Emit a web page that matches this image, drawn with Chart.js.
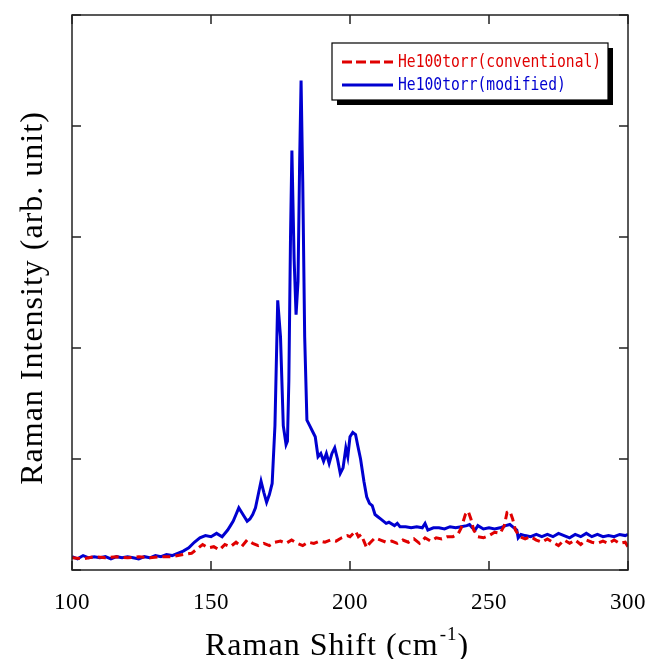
<!DOCTYPE html>
<html>
<head>
<meta charset="utf-8">
<script src="https://cdn.jsdelivr.net/npm/chart.js@4.4.0/dist/chart.umd.min.js"></script>
<style>
  html, body { margin: 0; padding: 0; background: #fff; }
  #wrap { width: 649px; height: 659px; }
</style>
</head>
<body>
<div id="wrap"><canvas id="ramanChart" width="649" height="659"></canvas></div>
<script>
// Raman shift (cm-1) and intensity (arb. unit)
const modifiedShift = [100,102,104,106,108,110,112,114,116,118,120,122,124,126,128,130,132,134,136,138,140,142,144,146,148,150,152,154,156,157,158,159,160,161,162,163,164,165,166,167,168,169,170,171,172,173,174,175,176,177,177.5,178,178.6,179.1,179.9,180.6,181.3,181.9,182.4,183,183.7,184.5,185.5,186.5,187.5,188.5,189.5,190.5,191.5,192.5,193.5,194.5,195.5,196.5,197.5,198.5,199.2,200,201,202,202.8,203.8,205,206,207,208,209,210,211,212,213,214,216,217,218,220,222,224,226,227,228,230,232,234,236,238,240,242,243,244,245,246,248,250,252,254,256,257.5,259,260,260.5,261.5,263,265,267,269,271,273,275,277,279,281,283,285,287,289,291,293,295,297,299,300];
const modifiedIntensity = [0.12,0.10,0.13,0.11,0.12,0.11,0.12,0.10,0.12,0.11,0.12,0.11,0.10,0.12,0.11,0.13,0.12,0.14,0.13,0.15,0.17,0.20,0.25,0.29,0.31,0.30,0.33,0.30,0.36,0.40,0.44,0.50,0.56,0.52,0.48,0.44,0.46,0.50,0.56,0.68,0.80,0.70,0.61,0.68,0.78,1.30,2.43,2.10,1.30,1.13,1.16,1.70,3.00,3.78,2.80,2.30,2.60,3.70,4.41,3.50,2.10,1.35,1.30,1.25,1.20,1.02,1.05,0.98,1.05,0.96,1.05,1.10,1.00,0.87,0.92,1.10,1.02,1.20,1.24,1.22,1.12,1.00,0.80,0.66,0.60,0.58,0.50,0.48,0.46,0.44,0.42,0.43,0.40,0.42,0.39,0.39,0.38,0.39,0.38,0.42,0.36,0.38,0.38,0.37,0.39,0.38,0.39,0.40,0.41,0.38,0.36,0.40,0.37,0.38,0.37,0.38,0.40,0.41,0.38,0.36,0.29,0.32,0.31,0.30,0.32,0.30,0.32,0.30,0.33,0.31,0.29,0.32,0.30,0.33,0.30,0.32,0.30,0.31,0.30,0.32,0.31,0.32,0.33];

const conventionalShift = [100,104,108,112,116,120,124,128,132,136,140,143,145,147,149,151,153,155,157,159,161,163,165,167,169,171,173,175,177,179,181,183,185,187,189,191,193,195,197,199,200,202,203,204,205,206,207,209,211,213,215,217,219,221,223,225,227,229,231,233,235,237,239,240,241.5,242.5,243.5,244.5,246,248,250,252,254,255.5,256.5,257.5,258.5,259.5,261,263,265,267,269,271,273,275,277,279,281,283,285,287,289,291,293,295,297,299,300];
const conventionalIntensity = [0.11,0.10,0.12,0.11,0.12,0.11,0.12,0.11,0.12,0.12,0.14,0.15,0.19,0.23,0.20,0.21,0.18,0.23,0.21,0.25,0.21,0.27,0.24,0.22,0.24,0.22,0.25,0.26,0.24,0.27,0.24,0.22,0.25,0.24,0.26,0.25,0.27,0.26,0.29,0.31,0.30,0.35,0.30,0.32,0.26,0.20,0.24,0.29,0.27,0.25,0.26,0.24,0.27,0.25,0.28,0.24,0.29,0.26,0.29,0.28,0.30,0.30,0.33,0.38,0.50,0.53,0.46,0.36,0.30,0.29,0.31,0.34,0.33,0.40,0.52,0.53,0.46,0.36,0.30,0.28,0.30,0.27,0.25,0.28,0.25,0.22,0.27,0.24,0.27,0.23,0.27,0.25,0.24,0.26,0.24,0.27,0.24,0.25,0.21];

const xTicks = [100, 150, 200, 250, 300];
const yTicks = [0, 1, 2, 3, 4, 5];

const seriesNames = ['He100torr(conventional)', 'He100torr(modified)'];
const red = '#e00000';
const blue = '#0000d0';

function toPoints(xs, ys) {
  return xs.map((x, i) => ({ x: x, y: ys[i] }));
}

// frame, inward ticks, titles and the boxed legend
const decorations = {
  id: 'decorations',
  beforeDraw(chart) {
    chart.ctx.letterSpacing = '0.5px';
  },
  afterDraw(chart) {
    const c = chart.ctx;
    const a = chart.chartArea;
    const xs = chart.scales.x, ys = chart.scales.y;
    c.save();
    c.strokeStyle = '#222';
    c.lineWidth = 1.5;
    c.strokeRect(a.left, a.top, a.right - a.left, a.bottom - a.top);
    c.beginPath();
    xTicks.forEach(v => {
      const px = xs.getPixelForValue(v);
      c.moveTo(px, a.bottom); c.lineTo(px, a.bottom - 9);
      c.moveTo(px, a.top); c.lineTo(px, a.top + 9);
    });
    yTicks.forEach(v => {
      const py = ys.getPixelForValue(v);
      c.moveTo(a.left, py); c.lineTo(a.left + 9, py);
      c.moveTo(a.right, py); c.lineTo(a.right - 9, py);
    });
    c.stroke();

    // x title with superscript
    c.fillStyle = '#000';
    c.textBaseline = 'alphabetic';
    c.letterSpacing = '1px';
    const big = '32px "Liberation Serif", "Times New Roman", serif';
    const small = '19px "Liberation Serif", "Times New Roman", serif';
    c.font = big;
    const p1 = 'Raman Shift (cm', p3 = ')';
    const w1 = c.measureText(p1).width;
    c.font = small;
    const w2 = c.measureText('-1').width;
    const x0 = 205;
    const yb = 655;
    c.font = big; c.fillText(p1, x0, yb);
    c.font = small; c.fillText('-1', x0 + w1 + 1, yb - 15);
    c.font = big; c.fillText(p3, x0 + w1 + w2 + 1, yb);

    // y title
    c.save();
    c.translate(42, 298);
    c.rotate(-Math.PI / 2);
    c.textAlign = 'center';
    c.font = big;
    c.fillText('Raman Intensity (arb. unit)', 0, 0);
    c.restore();
    c.letterSpacing = '0px';

    // legend
    const lx = 332, ly = 43, lw = 276, lh = 57;
    c.fillStyle = '#000';
    c.fillRect(lx + 5, ly + 5, lw, lh);
    c.fillStyle = '#fff';
    c.fillRect(lx, ly, lw, lh);
    c.strokeStyle = '#000';
    c.lineWidth = 1.2;
    c.strokeRect(lx, ly, lw, lh);
    c.lineWidth = 3;
    c.strokeStyle = red;
    c.setLineDash([10, 4]);
    c.beginPath(); c.moveTo(342, 62); c.lineTo(393, 62); c.stroke();
    c.setLineDash([]);
    c.strokeStyle = blue;
    c.beginPath(); c.moveTo(342, 85); c.lineTo(393, 85); c.stroke();
    c.font = '18px "DejaVu Sans Mono", monospace';
    c.textBaseline = 'middle';
    c.textAlign = 'left';
    c.fillStyle = red;
    c.save();
    c.translate(398, 62); c.scale(0.815, 1);
    c.fillText(seriesNames[0], 0, 0);
    c.restore();
    c.fillStyle = blue;
    c.save();
    c.translate(398, 85); c.scale(0.815, 1);
    c.fillText(seriesNames[1], 0, 0);
    c.restore();
    c.restore();
  }
};

const ctx = document.getElementById('ramanChart').getContext('2d');
const ramanChart = new Chart(ctx, {
  type: 'line',
  data: {
    datasets: [
      {
        label: seriesNames[0],
        data: toPoints(conventionalShift, conventionalIntensity),
        borderColor: red,
        borderWidth: 3,
        borderDash: [8, 5],
        pointRadius: 0,
        fill: false,
        tension: 0
      },
      {
        label: seriesNames[1],
        data: toPoints(modifiedShift, modifiedIntensity),
        borderColor: blue,
        borderWidth: 3,
        pointRadius: 0,
        fill: false,
        tension: 0
      }
    ]
  },
  options: {
    responsive: false,
    animation: false,
    layout: { padding: { top: 15, right: 21, left: 0, bottom: 0 } },
    plugins: { legend: { display: false }, tooltip: { enabled: false } },
    scales: {
      x: {
        type: 'linear',
        min: 100,
        max: 300,
        afterBuildTicks: s => { s.ticks = xTicks.map(v => ({ value: v })); },
        afterFit: s => { s.height = 89; s.paddingLeft = 0; s.paddingRight = 0; },
        grid: { display: false, drawTicks: false },
        border: { display: false },
        ticks: {
          padding: 19,
          color: '#000',
          font: { family: '"Liberation Serif", "Times New Roman", serif', size: 23 }
        }
      },
      y: {
        min: 0,
        max: 5,
        afterBuildTicks: s => { s.ticks = yTicks.map(v => ({ value: v })); },
        afterFit: s => { s.width = 72; s.paddingTop = 0; s.paddingBottom = 0; },
        grid: { display: false },
        border: { display: false },
        ticks: { display: false }
      }
    }
  },
  plugins: [decorations]
});
</script>
</body>
</html>
